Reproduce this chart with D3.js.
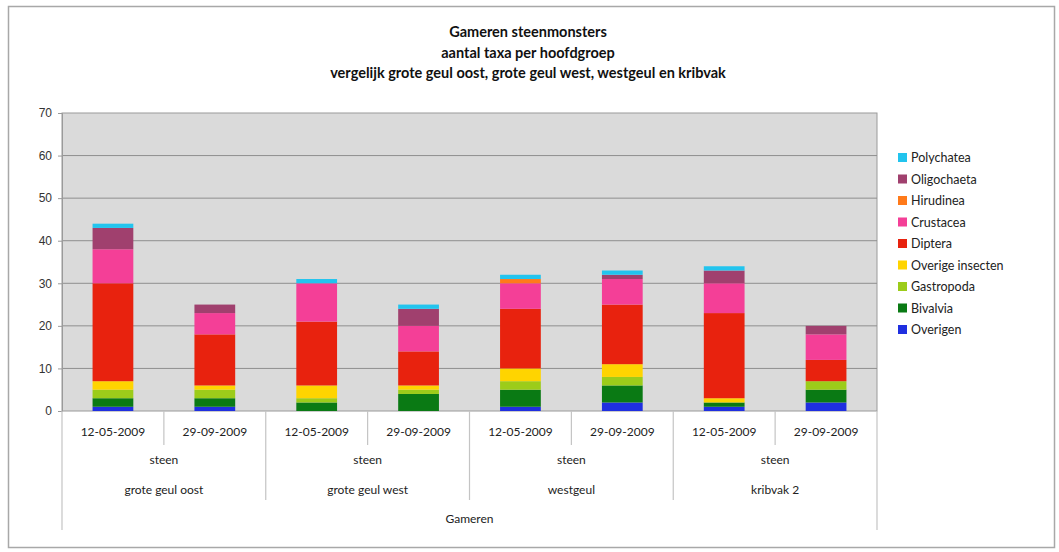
<!DOCTYPE html>
<html>
<head>
<meta charset="utf-8">
<script src="https://cdn.jsdelivr.net/npm/d3@7"></script>
<style>
  body { margin: 0; background: #fff; }
  svg { font-family: Lato, "Open Sans", sans-serif; }
</style>
</head>
<body>
<div id="chart"></div>
<script>
// data
const locaties = ["grote geul oost", "grote geul west", "westgeul", "kribvak 2"];
const datums = ["12-05-2009", "29-09-2009"];
const groepen = ["Overigen", "Bivalvia", "Gastropoda", "Overige insecten", "Diptera",
                 "Crustacea", "Hirudinea", "Oligochaeta", "Polychatea"];
const kleuren = ["#1f2fe0", "#0a7a14", "#9ccc1a", "#ffd400", "#e8220e",
                 "#f43f97", "#ff7a1a", "#a0406e", "#22c4ee"];

// one array per group, 8 bars: (oost 12-05, oost 29-09, west .., westgeul .., kribvak ..)
const overigen        = [1, 1, 0, 0, 1, 2, 1, 2];
const bivalvia        = [2, 2, 2, 4, 4, 4, 1, 3];
const gastropoda      = [2, 2, 1, 1, 2, 2, 0, 2];
const overigeInsecten = [2, 1, 3, 1, 3, 3, 1, 0];
const diptera         = [23, 12, 15, 8, 14, 14, 20, 5];
const crustacea       = [8, 5, 9, 6, 6, 6, 7, 6];
const hirudinea       = [0, 0, 0, 0, 1, 0, 0, 0];
const oligochaeta     = [5, 2, 0, 4, 0, 1, 3, 2];
const polychatea      = [1, 0, 1, 1, 1, 1, 1, 0];
const yTicks = [0, 10, 20, 30, 40, 50, 60, 70];

const reeksen = [overigen, bivalvia, gastropoda, overigeInsecten, diptera,
                 crustacea, hirudinea, oligochaeta, polychatea];

const rows = [];
locaties.forEach((loc, i) => {
  datums.forEach((d, j) => {
    const r = { key: loc + "|" + d, loc: loc, datum: d };
    groepen.forEach((g, k) => { r[g] = reeksen[k][i * 2 + j]; });
    rows.push(r);
  });
});

const width = 1059, height = 552;
const svg = d3.select("#chart").append("svg")
  .attr("width", width).attr("height", height);

// outer frame
svg.append("rect").attr("x", 8.5).attr("y", 6.5).attr("width", 1046).attr("height", 541)
  .attr("fill", "#fff").attr("stroke", "#a8a8a8").attr("stroke-width", 1.5);

const pLeft = 62, pRight = 877, pTop = 113, pBottom = 411;

const x = d3.scaleBand().domain(rows.map(r => r.key)).range([pLeft, pRight]).paddingInner(0.6).paddingOuter(0.3);
const xStep = (pRight - pLeft) / rows.length;
const y = d3.scaleLinear().domain([0, 70]).range([pBottom, pTop]);

// plot area
svg.append("rect").attr("x", pLeft).attr("y", pTop).attr("width", pRight - pLeft).attr("height", pBottom - pTop)
  .attr("fill", "#dadada").attr("stroke", "#9a9a9a");

svg.append("g").selectAll("line").data(yTicks.slice(1, -1)).join("line")
  .attr("x1", pLeft).attr("x2", pRight)
  .attr("y1", d => y(d)).attr("y2", d => y(d))
  .attr("stroke", "#8e8e8e").attr("stroke-width", 1);

const yAxis = svg.append("g").attr("transform", `translate(${pLeft},0)`)
  .call(d3.axisLeft(y).tickValues(yTicks).tickSize(4).tickPadding(6));
yAxis.select(".domain").attr("stroke", "#9a9a9a");
yAxis.selectAll(".tick line").attr("stroke", "#9a9a9a");
yAxis.selectAll("text").attr("font-size", 12).attr("fill", "#333");

// stacked bars
const stack = d3.stack().keys(groepen)(rows);
svg.append("g").selectAll("g").data(stack).join("g")
  .attr("fill", (d, i) => kleuren[i])
  .selectAll("rect").data(d => d).join("rect")
  .attr("x", d => x(d.data.key))
  .attr("width", x.bandwidth())
  .attr("y", d => y(d[1]))
  .attr("height", d => y(d[0]) - y(d[1]));

// category axis (three levels)
const cat = svg.append("g").attr("stroke", "#c4c4c4").attr("stroke-width", 1.2);
rows.forEach((r, i) => {
  const x0 = pLeft + i * xStep;
  const groupEdge = i % 2 === 0;
  cat.append("line").attr("x1", x0).attr("x2", x0)
    .attr("y1", pBottom).attr("y2", i === 0 ? 530 : (groupEdge ? 500 : 445));
});
cat.append("line").attr("x1", pRight).attr("x2", pRight).attr("y1", pBottom).attr("y2", 530);

svg.append("g").selectAll("text").data(rows).join("text")
  .attr("x", d => x(d.key) + x.bandwidth() / 2).attr("y", 436)
  .attr("text-anchor", "middle").attr("font-size", 12).attr("fill", "#222")
  .text(d => d.datum);

const groepX = i => pLeft + (i * 2 + 1) * xStep;
svg.append("g").selectAll("text").data(locaties).join("text")
  .attr("x", (d, i) => groepX(i)).attr("y", 464)
  .attr("text-anchor", "middle").attr("font-size", 12).attr("fill", "#222")
  .text("steen");
svg.append("g").selectAll("text").data(locaties).join("text")
  .attr("x", (d, i) => groepX(i)).attr("y", 494)
  .attr("text-anchor", "middle").attr("font-size", 12).attr("fill", "#222")
  .text(d => d);
svg.append("text").attr("x", (pLeft + pRight) / 2).attr("y", 523)
  .attr("text-anchor", "middle").attr("font-size", 12).attr("fill", "#222")
  .text("Gameren");

// title
const titel = ["Gameren steenmonsters", "aantal taxa per hoofdgroep",
  "vergelijk grote geul oost, grote geul west, westgeul en kribvak"];
svg.append("g").selectAll("text").data(titel).join("text")
  .attr("x", 528).attr("y", (d, i) => 37 + i * 20.5)
  .attr("text-anchor", "middle").attr("font-size", 14.5).attr("font-weight", "bold").attr("fill", "#111")
  .text(d => d);

// legend, top item first
const legend = svg.append("g").attr("transform", "translate(898,153)");
const legItems = groepen.map((g, i) => ({ g, c: kleuren[i] })).reverse();
const li = legend.selectAll("g").data(legItems).join("g")
  .attr("transform", (d, i) => `translate(0,${i * 21.5})`);
li.append("rect").attr("width", 9).attr("height", 9).attr("fill", d => d.c);
li.append("text").attr("x", 13).attr("y", 9).attr("font-size", 12.5).attr("fill", "#222").text(d => d.g);
</script>
</body>
</html>
